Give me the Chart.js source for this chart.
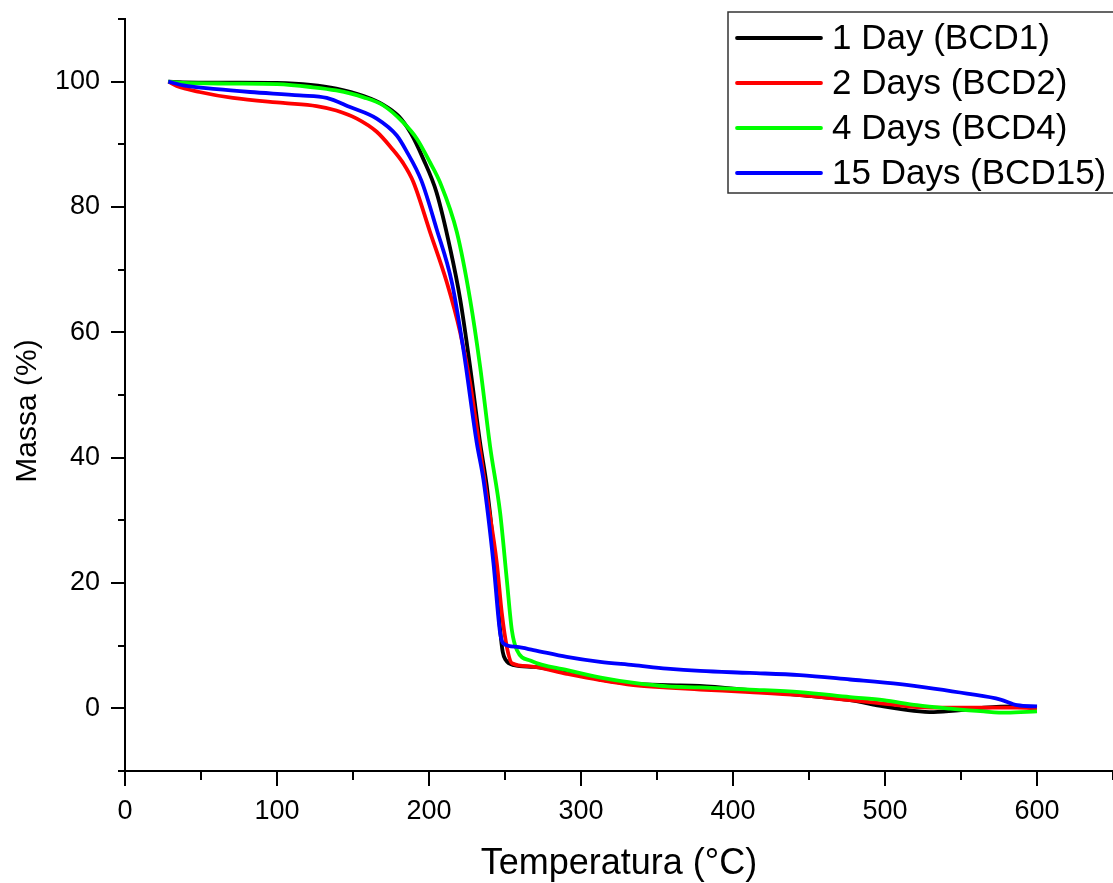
<!DOCTYPE html>
<html>
<head>
<meta charset="utf-8">
<script src="https://cdn.jsdelivr.net/npm/chart.js@4/dist/chart.umd.min.js"></script>
<style>
  html, body { margin: 0; padding: 0; background: #ffffff; }
  canvas { display: block; }
</style>
</head>
<body>
<canvas id="tga" width="1113" height="883"></canvas>
<script>
const FONT = '"Liberation Sans", Arial, Helvetica, sans-serif';

// Series names and colours
const seriesLabels = ['1 Day (BCD1)', '2 Days (BCD2)', '4 Days (BCD4)', '15 Days (BCD15)'];
const seriesColors = ['#000000', '#ff0000', '#00ff00', '#0000ff'];

// TGA curves: temperature (°C) and remaining mass (%)
const tempBCD1 = [28.5, 38, 69, 100, 122, 139, 157, 170, 180, 188, 196, 205, 214, 220.5, 227, 233.6, 238, 242.4, 246.8, 248.5, 250.5, 256, 269, 291, 313, 335, 357, 378, 411, 444, 477, 499, 519, 532, 550, 565, 587, 600];
const massBCD1 = [100.0, 99.9, 99.85, 99.8, 99.5, 98.9, 97.7, 96.3, 94.5, 91.8, 87.8, 82.3, 73.3, 65.3, 54.6, 42.4, 35.5, 25.8, 12.5, 9.0, 7.7, 6.9, 6.6, 5.7, 4.6, 3.9, 3.7, 3.6, 2.9, 2.1, 1.3, 0.3, -0.4, -0.6, -0.3, 0.1, 0.3, 0.1];

const tempBCD2 = [28.5, 34, 49, 71, 104, 126, 139, 152.5, 165.6, 175, 183, 189.7, 200.7, 211.7, 220.5, 227, 232.5, 238, 244.6, 247.9, 251.2, 254.5, 266.5, 290.6, 312.6, 334.5, 356.5, 378.4, 411, 444, 477, 499, 521, 543, 565, 587, 600];
const massBCD2 = [100.0, 99.3, 98.35, 97.4, 96.6, 96.1, 95.4, 94.1, 92.0, 89.5, 87.0, 84.0, 76.0, 68.0, 60.0, 52.0, 43.0, 34.0, 23.2, 15.2, 9.8, 7.2, 6.7, 5.5, 4.5, 3.7, 3.3, 3.0, 2.6, 2.1, 1.3, 0.75, 0.2, 0.1, 0.1, 0.1, 0.0];

const tempBCD4 = [28.5, 38.4, 69, 100, 122, 139, 157, 170, 183, 192, 200.7, 207.3, 218.3, 227, 233.6, 240.2, 246.8, 251.2, 254.5, 257.8, 267, 291, 313, 335, 357, 378, 411, 444, 477, 499, 521, 543, 565, 580, 600];
const massBCD4 = [100.0, 99.8, 99.7, 99.6, 99.15, 98.6, 97.5, 96.2, 93.5, 90.9, 87.1, 83.9, 76.0, 65.3, 54.6, 41.8, 31.2, 20.5, 12.5, 9.3, 7.6, 6.1, 4.9, 4.05, 3.5, 3.35, 3.0, 2.6, 1.8, 1.3, 0.5, -0.05, -0.5, -0.7, -0.5];

const tempBCD15 = [28.5, 38.4, 60.3, 82.3, 115, 132.7, 148, 165.6, 178.8, 185, 195, 205, 215, 222.6, 231.4, 235.8, 242.4, 246.8, 249, 257.8, 268.7, 290.6, 312.6, 334.5, 356.5, 378.4, 411, 444, 477, 510, 532, 554, 576, 587, 600];
const massBCD15 = [100.0, 99.4, 98.8, 98.35, 97.8, 97.4, 95.95, 94.1, 91.4, 89.0, 84.2, 76.5, 68.0, 57.3, 42.4, 36.5, 23.2, 12.0, 10.35, 9.8, 9.3, 8.2, 7.4, 6.9, 6.35, 5.97, 5.65, 5.3, 4.6, 3.85, 3.15, 2.35, 1.4, 0.5, 0.3];

// Axis ticks
const xTickValues = [0, 100, 200, 300, 400, 500, 600];
const yTickValues = [0, 20, 40, 60, 80, 100];
const xMinorStep = 50;
const yMinorStep = 10;

const temps = [tempBCD1, tempBCD2, tempBCD4, tempBCD15];
const masses = [massBCD1, massBCD2, massBCD4, massBCD15];

const datasets = seriesLabels.map((label, i) => ({
  label,
  data: temps[i].map((t, k) => ({ x: t, y: masses[i][k] })),
  borderColor: seriesColors[i],
  backgroundColor: seriesColors[i],
  borderWidth: 3.8,
  pointRadius: 0,
  fill: false,
  cubicInterpolationMode: 'monotone',
  order: seriesLabels.length - i
}));

// Outward major/minor tick marks, y-axis title and boxed legend
const decorations = {
  id: 'decorations',
  afterDraw(chart) {
    const { ctx, scales: { x, y }, chartArea: a } = chart;
    ctx.save();
    ctx.strokeStyle = '#000';
    ctx.lineWidth = 2;
    ctx.beginPath();
    for (let v = x.min; v <= x.max + 1e-6; v += xMinorStep) {
      const px = Math.round(x.getPixelForValue(v));
      const len = xTickValues.includes(Math.round(v)) ? 15 : 9;
      ctx.moveTo(px, a.bottom);
      ctx.lineTo(px, a.bottom + len);
    }
    for (let v = y.min; v <= y.max + 1e-6; v += yMinorStep) {
      const py = Math.round(y.getPixelForValue(v));
      const len = yTickValues.includes(Math.round(v)) ? 14 : 7;
      ctx.moveTo(a.left, py);
      ctx.lineTo(a.left - len, py);
    }
    ctx.stroke();

    // y-axis title
    ctx.save();
    ctx.translate(28, 411);
    ctx.rotate(-Math.PI / 2);
    ctx.fillStyle = '#000';
    ctx.font = '30px ' + FONT;
    ctx.textAlign = 'center';
    ctx.textBaseline = 'middle';
    ctx.fillText('Massa (%)', 0, 0);
    ctx.restore();

    // legend
    const boxL = 728, boxT = 12, boxB = 193;
    ctx.fillStyle = '#ffffff';
    ctx.fillRect(boxL, boxT, chart.width - boxL + 20, boxB - boxT);
    ctx.strokeStyle = '#333333';
    ctx.lineWidth = 1.5;
    ctx.strokeRect(boxL, boxT, chart.width - boxL + 20, boxB - boxT);
    ctx.font = '35px ' + FONT;
    ctx.textAlign = 'left';
    ctx.textBaseline = 'middle';
    chart.data.datasets.forEach((ds, i) => {
      const rowY = 38 + i * 45;
      ctx.strokeStyle = ds.borderColor;
      ctx.lineWidth = 3.8;
      ctx.lineCap = 'round';
      ctx.beginPath();
      ctx.moveTo(737, rowY);
      ctx.lineTo(821, rowY);
      ctx.stroke();
      ctx.fillStyle = '#000';
      ctx.fillText(ds.label, 832, rowY + 1);
    });
    ctx.restore();
  }
};

new Chart(document.getElementById('tga'), {
  type: 'line',
  data: { datasets },
  plugins: [decorations],
  options: {
    responsive: false,
    animation: false,
    devicePixelRatio: 1,
    layout: { padding: { top: 19, right: 0, bottom: 0, left: 0 } },
    plugins: {
      legend: { display: false },
      tooltip: { enabled: false }
    },
    scales: {
      x: {
        type: 'linear',
        position: 'bottom',
        min: 0,
        max: 650,
        grid: { display: false, drawTicks: false },
        border: { display: true, color: '#000', width: 2 },
        ticks: {
          stepSize: xMinorStep,
          autoSkip: false,
          maxRotation: 0,
          padding: 24,
          color: '#000',
          font: { size: 27, family: FONT },
          callback: (v) => xTickValues.includes(Math.round(v)) ? String(Math.round(v)) : null
        },
        title: {
          display: true,
          text: 'Temperatura (°C)',
          color: '#000',
          font: { size: 36, family: FONT, lineHeight: 1 },
          padding: { top: 0, bottom: 1 }
        },
        afterFit: (s) => { s.height = 112; s.paddingLeft = 0; s.paddingRight = 0; }
      },
      y: {
        type: 'linear',
        min: -10,
        max: 110,
        grid: { display: false, drawTicks: false },
        border: { display: true, color: '#000', width: 2 },
        ticks: {
          stepSize: yMinorStep,
          autoSkip: false,
          padding: 25,
          color: '#000',
          font: { size: 27, family: FONT },
          callback: (v) => yTickValues.includes(Math.round(v)) ? String(Math.round(v)) : null
        },
        title: { display: false },
        afterFit: (s) => { s.width = 125; s.paddingTop = 0; s.paddingBottom = 0; }
      }
    }
  }
});
</script>
</body>
</html>
